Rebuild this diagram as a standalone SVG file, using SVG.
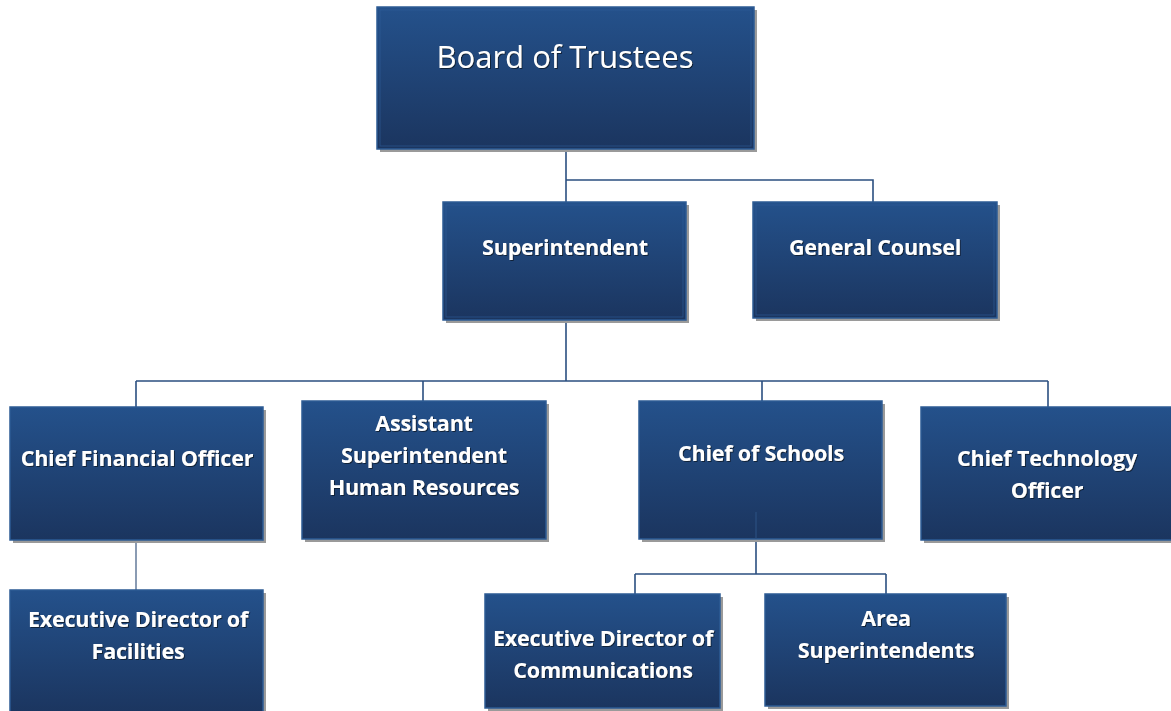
<svg xmlns="http://www.w3.org/2000/svg" width="1171" height="711" viewBox="0 0 1171 711">
<defs>
<linearGradient id="g" x1="0" y1="0" x2="0" y2="1">
<stop offset="0" stop-color="#24518b"/>
<stop offset="1" stop-color="#1b355f"/>
</linearGradient>
<filter id="ts" x="-10%" y="-30%" width="120%" height="160%">
<feDropShadow dx="1" dy="1" stdDeviation="0.6" flood-color="#0a1a33" flood-opacity="0.9"/>
</filter>
</defs>
<style>
.box{fill:url(#g);stroke:#2d5b94;stroke-width:1.5}
.inner{fill:none;stroke:#2f5e99;stroke-width:1;opacity:0.6}
.sh{fill:#9a9a9a}
.t{font-family:"Open Sans",Lato,"Liberation Sans",sans-serif;font-weight:bold;font-size:21.5px;letter-spacing:-0.2px;fill:#ffffff;text-anchor:middle;filter:url(#ts)}
.big{font-family:"Open Sans",Lato,"Liberation Sans",sans-serif;font-size:31px;fill:#ffffff;text-anchor:middle;filter:url(#ts)}
.c{fill:none;stroke:#2b4f80;stroke-width:1.6}
</style>
<rect width="1171" height="711" fill="#ffffff"/>
<g id="connectors">
<path class="c" d="M566 149V202M566 180H873V202"/>
<path class="c" d="M566 320V381M136 381H1048M136 381V407M423 381V401M762 381V401M1048 381V407"/>
<path class="c" d="M756 512V574M635 574H886M635 574V594M886 574V594"/>
<path d="M136 540V590" fill="none" stroke="#8a9bb3" stroke-width="2"/>
</g>
<g id="board">
<rect class="sh" x="380" y="10" width="377" height="142"/>
<rect class="box" x="377" y="7" width="377" height="142"/>
<rect class="inner" x="380" y="10" width="371" height="136"/>
<text class="big" x="565" y="68">Board of Trustees</text>
</g>
<g id="superintendent">
<rect class="sh" x="446" y="205" width="243" height="118"/>
<rect class="box" x="443" y="202" width="243" height="118"/>
<rect class="inner" x="446" y="205" width="237" height="112"/>
<text class="t" x="565" y="255">Superintendent</text>
</g>
<g id="general-counsel">
<rect class="sh" x="756" y="205" width="244" height="116"/>
<rect class="box" x="753" y="202" width="244" height="116"/>
<rect class="inner" x="756" y="205" width="238" height="110"/>
<text class="t" x="875" y="255">General Counsel</text>
</g>
<g id="cfo">
<rect class="sh" x="13" y="410" width="253" height="133"/>
<rect class="box" x="10" y="407" width="253" height="133"/>
<text class="t" x="137" y="466">Chief Financial Officer</text>
</g>
<g id="asst-super-hr">
<rect class="sh" x="305" y="404" width="244" height="138"/>
<rect class="box" x="302" y="401" width="244" height="138"/>
<text class="t" x="424" y="431">Assistant</text>
<text class="t" x="424" y="463">Superintendent</text>
<text class="t" x="424" y="495">Human Resources</text>
</g>
<g id="chief-schools">
<rect class="sh" x="642" y="404" width="243" height="138"/>
<rect class="box" x="639" y="401" width="243" height="138"/>
<line x1="756" y1="512" x2="756" y2="539" stroke="#2b4f80" stroke-width="1.2"/>
<text class="t" x="761" y="461">Chief of Schools</text>
</g>
<g id="cto">
<rect class="sh" x="924" y="410" width="250" height="133"/>
<rect class="box" x="921" y="407" width="252" height="133"/>
<text class="t" x="1047" y="466">Chief Technology</text>
<text class="t" x="1047" y="498">Officer</text>
</g>
<g id="exec-facilities">
<rect class="sh" x="13" y="593" width="253" height="121"/>
<rect class="box" x="10" y="590" width="253" height="124"/>
<text class="t" x="138" y="627">Executive Director of</text>
<text class="t" x="138" y="659">Facilities</text>
</g>
<g id="exec-communications">
<rect class="sh" x="488" y="597" width="235" height="114"/>
<rect class="box" x="485" y="594" width="235" height="114"/>
<text class="t" x="603" y="646">Executive Director of</text>
<text class="t" x="603" y="678">Communications</text>
</g>
<g id="area-super">
<rect class="sh" x="768" y="597" width="241" height="112"/>
<rect class="box" x="765" y="594" width="241" height="112"/>
<text class="t" x="886" y="626">Area</text>
<text class="t" x="886" y="658">Superintendents</text>
</g>
</svg>
